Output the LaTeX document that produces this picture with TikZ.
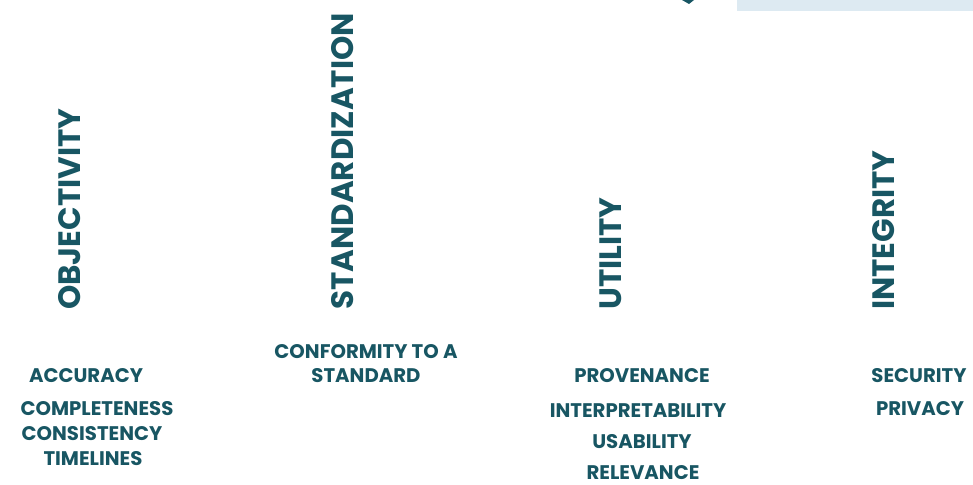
\documentclass[tikz,border=0pt]{standalone}
\usepackage{fontspec}
\setmainfont{Poppins}
\usepackage{xcolor}
\usepackage{tikz}
\usetikzlibrary{positioning}
\definecolor{ink}{HTML}{185663}
\definecolor{paleblue}{HTML}{DDEAF2}
\tikzset{
  dim/.style={rotate=90, anchor=west, text=ink, font=\fontsize{22}{24}\selectfont\bfseries, inner sep=0pt},
  item/.style={text=ink, font=\fontsize{14}{17}\selectfont\bfseries, inner sep=0pt, align=center},
  every node/.style={text=ink}
}
\begin{document}
\begin{tikzpicture}[x=0.025cm, y=-0.025cm]
  \useasboundingbox (0,0) rectangle (973,485);

  % top edge pieces
  \fill[paleblue] (737,0) rectangle (973,11);
  \fill[ink] (682,0) -- (694,0) -- (689,4) -- cycle;

  % dimension headings
  \node[dim] (obj) at (70,310) {OBJECTIVITY};
  \node[dim] (std) at (343,310) {STANDARDIZATION};
  \node[dim] (uti) at (611,310) {UTILITY};
  \node[dim] (int) at (884,310) {INTEGRITY};

  % objectivity
  \node[item] (acc) at (86,376) {ACCURACY};
  \node[item] (cpl) at (97,409) {COMPLETENESS};
  \node[item] (cns) at (92,434) {CONSISTENCY};
  \node[item] (tml) at (93,459) {TIMELINES};

  % standardization
  \node[item] (cnf) at (366,364) {CONFORMITY TO A\\STANDARD};

  % utility
  \node[item] (prv) at (642,376) {PROVENANCE};
  \node[item] (itp) at (638,411) {INTERPRETABILITY};
  \node[item] (usa) at (642,442) {USABILITY};
  \node[item] (rel) at (643,473) {RELEVANCE};

  % integrity
  \node[item] (sec) at (919,376) {SECURITY};
  \node[item] (pri) at (920,409) {PRIVACY};
\end{tikzpicture}
\end{document}
